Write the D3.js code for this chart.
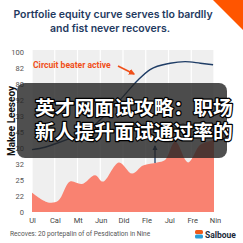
<!DOCTYPE html>
<html><head><meta charset="utf-8">
<script src="https://cdn.jsdelivr.net/npm/d3@7/dist/d3.min.js"></script>
<style>html,body{margin:0;padding:0;background:#fff;}svg{display:block;}</style>
</head><body>
<script>
const months = ["Ul","Cal","Mt","Jun","Did","Fle","Jul","Fre","Nin"];
const yTickValues = [0,10,20,30,40,50,60,70,80,90,100];
const yTickLabels = ["0","22","25","32","20","45","33","92","80","82","100"];
// area series (position in month units, value)
const areaX = [0,0.7,1.15,1.67,2.2,2.77,3.12,3.82,4.4,4.88,5.5,5.85,6.3,6.86,7.4,8];
const areaY = [12,6,7,19,17.5,23,19,31,24,29,31,32.5,44,31,42,45];
// equity line
const lineX = [0,0.57,1.0,1.67,2.46,3.21,3.87,4.66,5.19,6.07,6.73,7.4,7.96];
const lineY = [39,40.5,42.5,46,51,60.5,70,82.5,89,93,94,93,92];

const W=243,H=243;
const svg=d3.select("body").append("svg").attr("width",W).attr("height",H);
const m={l:32,r:214,t:52,b:212};
const x=d3.scaleLinear().domain([0,8]).range([m.l,m.r]);
const y=d3.scaleLinear().domain([0,100]).range([m.b,m.t]);

// plot background
svg.append("rect").attr("x",m.l).attr("y",50).attr("width",m.r-m.l).attr("height",m.b-50).attr("fill","#efefef");
// vertical grid
svg.append("g").selectAll("line").data(months).join("line")
  .attr("x1",(d,i)=>x(i)).attr("x2",(d,i)=>x(i)).attr("y1",50).attr("y2",m.b)
  .attr("stroke","#fff").attr("stroke-width",1.2);

// area
const aData=areaX.map((v,i)=>[v,areaY[i]]);
svg.append("path").datum(aData)
  .attr("d",d3.area().x(d=>x(d[0])).y0(y(0)).y1(d=>y(d[1])).curve(d3.curveCatmullRom))
  .attr("fill","#f98271");

// line
const lData=lineX.map((v,i)=>[v,lineY[i]]);
svg.append("path").datum(lData)
  .attr("d",d3.line().x(d=>x(d[0])).y(d=>y(d[1])).curve(d3.curveMonotoneX))
  .attr("fill","none").attr("stroke","#1f3d66").attr("stroke-width",1.4);

// y axis ticks
const ya=svg.append("g").attr("transform",`translate(${m.l-5},0)`)
  .call(d3.axisLeft(y).tickValues(yTickValues).tickFormat((d,i)=>yTickLabels[i]).tickSize(0));
ya.select(".domain").remove();
ya.selectAll("text").attr("font-family","Roboto, Arial, sans-serif").attr("font-size",7.5).attr("fill","#555");

// x axis
const xa=svg.append("g").attr("transform",`translate(0,${m.b+3})`)
  .call(d3.axisBottom(d3.scalePoint().domain(months).range([m.l,m.r+1])).tickSize(0));
xa.select(".domain").remove();
xa.selectAll("text").attr("font-family","Roboto, Arial, sans-serif").attr("font-size",7.5).attr("fill","#444");

// y label
svg.append("text").attr("transform","translate(15,121) rotate(-90)").attr("text-anchor","middle")
  .attr("font-family","Roboto, Arial, sans-serif").attr("font-weight","bold").attr("font-size",10).attr("fill","#111")
  .text("Makee Leeseoy");

// titles
const tt=svg.append("text").attr("text-anchor","middle").attr("font-family","Inter, Arial, sans-serif")
  .attr("font-weight",600).attr("font-size",10.5).attr("fill","#1f3a5f");
tt.append("tspan").attr("x",113).attr("y",18).text("Portfolie equity curve serves tlo bardlly");
tt.append("tspan").attr("x",110).attr("y",32).text("and fist never recovers.");

// top-right triangle
svg.append("path").attr("d","M213,0L243,0L243,30Z").attr("fill","#ff5500");

// annotation: circuit
svg.append("text").attr("x",33).attr("y",68).attr("font-family","Roboto, Arial, sans-serif")
  .attr("font-weight","bold").attr("font-size",8.6).attr("fill","#f0501a").text("Circuit beater active");
svg.append("defs").html(`<marker id="ao" viewBox="0 0 10 10" refX="8" refY="5" markerWidth="4" markerHeight="4" orient="auto"><path d="M0,0L10,5L0,10Z" fill="#f0501a"/></marker>
<marker id="an" viewBox="0 0 10 10" refX="8" refY="5" markerWidth="4" markerHeight="4" orient="auto"><path d="M0,0L10,5L0,10Z" fill="#1f3d66"/></marker>`);
svg.append("line").attr("x1",118).attr("y1",66).attr("x2",134).attr("y2",74)
  .attr("stroke","#f0501a").attr("stroke-width",1.6).attr("marker-end","url(#ao)");

// annotation: flat
svg.append("text").attr("x",132).attr("y",128).attr("font-family","Roboto, Arial, sans-serif")
  .attr("font-size",7.5).attr("fill","#666").text("Flatt rouse for 24 hours");
svg.append("line").attr("x1",155).attr("y1",163).attr("x2",155).attr("y2",146)
  .attr("stroke","#1f3d66").attr("stroke-width",1.3).attr("marker-end","url(#an)");

// footer
svg.append("text").attr("x",10).attr("y",236).attr("font-family","Roboto, Arial, sans-serif")
  .attr("font-size",6.6).attr("fill","#555").text("Recoves: 20 portepalin of of Pesdication in Nine");
svg.append("rect").attr("x",195).attr("y",230).attr("width",8).attr("height",4).attr("rx",1.5).attr("fill","#f05a1a");
svg.append("rect").attr("x",195).attr("y",234.5).attr("width",8).attr("height",4).attr("rx",1.5).attr("fill","#2a9fd8");
svg.append("text").attr("x",205).attr("y",237.5).attr("font-family","Roboto, Arial, sans-serif")
  .attr("font-weight","bold").attr("font-size",8.5).attr("fill","#1c2b3a").text("Salboue");

// overlay
svg.append("rect").attr("x",17).attr("y",83).attr("width",210).attr("height",75).attr("rx",8)
  .attr("fill","rgba(35,35,35,0.8)");
const ov=svg.append("text").attr("font-family","'Noto Sans CJK SC', sans-serif").attr("font-weight","bold")
  .attr("font-size",19.8).attr("fill","#fff").attr("stroke","#000").attr("stroke-width",2.5)
  .attr("paint-order","stroke").attr("stroke-linejoin","round");
ov.append("tspan").attr("x",35).attr("y",115).text("英才网面试攻略：职场");
ov.append("tspan").attr("x",35).attr("y",139).text("新人提升面试通过率的");
</script>
</body></html>
